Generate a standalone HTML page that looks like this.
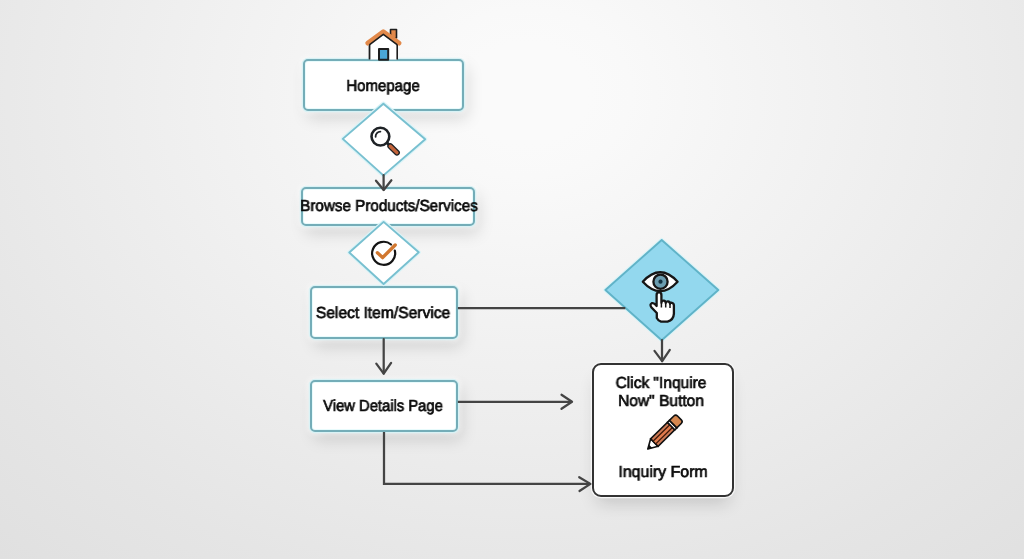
<!DOCTYPE html>
<html><head><meta charset="utf-8">
<style>
html,body{margin:0;padding:0;}
body{width:1024px;height:559px;overflow:hidden;position:relative;
 background:radial-gradient(ellipse 518px 421px at 526px 93px,rgb(250,250,250) 0%,rgb(250,250,250) 12%,rgb(249,249,249) 20%,rgb(247,247,247) 30%,rgb(244,244,244) 45%,rgb(241,241,241) 60%,rgb(237,237,237) 80%,rgb(233,233,233) 100%,rgb(229,229,229) 120%,rgb(224,224,224) 150%);
 font-family:"Liberation Sans",sans-serif;color:#1c1c1c;}
.box{position:absolute;box-sizing:border-box;background:#fff;border:2.3px solid #74adb8;border-radius:5px;
 box-shadow:inset 0 0 0 1px #e8fbfc,0 0 0 1.3px #d9f2f5,0 0 5px 3px rgba(255,255,255,0.5),4px 8px 16px rgba(0,0,0,0.13);}
.tx{position:absolute;font-size:16px;line-height:16px;white-space:nowrap;color:#0a0a0a;-webkit-text-stroke:0.7px #0a0a0a;z-index:5;will-change:transform;text-rendering:geometricPrecision;}
svg{position:absolute;left:0;top:0;}
</style></head>
<body>
<div class="box" style="left:303.15px;top:58.95px;width:160.9px;height:51.8px;"></div>
<div class="box" style="left:300.95px;top:186.55px;width:173.9px;height:39.3px;"></div>
<div class="box" style="left:309.65px;top:286.05px;width:148.2px;height:53.3px;"></div>
<div class="box" style="left:309.65px;top:379.75px;width:148.2px;height:52.1px;"></div>
<div class="box" style="left:591.75px;top:363.35px;width:141.8px;height:133.5px;border-color:#333;border-radius:9px;box-shadow:0 0 0 1.2px #f7f7f7,0 11px 18px -5px rgba(0,0,0,0.16);">
  </div>

<div class="tx" style="left:382.80px;top:78.53px;transform:translateX(-50%) scaleX(0.937);">Homepage</div>
<div class="tx" style="left:388.70px;top:198.65px;transform:translateX(-50%) scaleX(0.952);">Browse Products/Services</div>
<div class="tx" style="left:382.95px;top:305.70px;transform:translateX(-50%) scaleX(0.974);">Select Item/Service</div>
<div class="tx" style="left:383.25px;top:399.30px;transform:translateX(-50%) scaleX(0.923);">View Details Page</div>
<div class="tx" style="left:661.00px;top:375.90px;transform:translateX(-50%) scaleX(0.969);">Click "Inquire</div>
<div class="tx" style="left:661.05px;top:393.95px;transform:translateX(-50%) scaleX(0.971);">Now" Button</div>
<div class="tx" style="left:662.90px;top:464.65px;transform:translateX(-50%) scaleX(0.993);">Inquiry Form</div>
<svg width="1024" height="559" viewBox="0 0 1024 559">

 <!-- diamonds -->
 <path d="M383.4 103.7 L425.2 139.2 L383.4 175.4 L342.8 138.9 Z" fill="none" stroke="#daf4f8" stroke-width="4.2" stroke-linejoin="round"/>
 <path d="M383.4 103.7 L425.2 139.2 L383.4 175.4 L342.8 138.9 Z" fill="#fff" stroke="#78c0d0" stroke-width="1.9" stroke-linejoin="round"/>
 <path d="M383.6 221.9 L418.7 252.3 L383.6 284 L349.3 252.5 Z" fill="none" stroke="#daf4f8" stroke-width="4.2" stroke-linejoin="round"/>
 <path d="M383.6 221.9 L418.7 252.3 L383.6 284 L349.3 252.5 Z" fill="#fff" stroke="#78c0d0" stroke-width="1.9" stroke-linejoin="round"/>
 <path d="M661.7 240 L718.3 290 L661.7 340.3 L605.4 290 Z" fill="none" stroke="#daf4f8" stroke-width="4.2" stroke-linejoin="round"/>
 <path d="M661.7 240 L718.3 290 L661.7 340.3 L605.4 290 Z" fill="#93d8ee" stroke="#60b3c8" stroke-width="1.9" stroke-linejoin="round"/>
 <g fill="none" stroke="#444" stroke-width="2.25" stroke-linecap="round" stroke-linejoin="round">
  <!-- d1 to browse -->
  <path d="M383.6 175 V189.8"/>
  <path d="M376 180.7 L383.7 190 L391.4 180.3"/>
  <!-- select to view -->
  <path d="M383.7 339 V373.5"/>
  <path d="M376.3 363.6 L383.7 373.6 L391.1 362.9"/>
  <!-- select to blue diamond -->
  <path d="M457.9 308 H625.3" stroke-linecap="butt"/>
  <!-- blue diamond down -->
  <path d="M662 340 V361"/>
  <path d="M654.5 350.9 L662.2 361.2 L669.8 349.9"/>
  <!-- view right arrow -->
  <path d="M457.9 401.8 H571.5" stroke-linecap="butt"/>
  <path d="M561.5 394.8 L572 401.8 L561.5 408.8"/>
  <!-- view bottom L -->
  <path d="M384 432 V483.9 H590" stroke-linejoin="miter" stroke-linecap="butt"/>
  <path d="M579.2 477.2 L590.4 483.9 L579.5 491"/>
 </g>

 <!-- house -->
 <g stroke="#1e1e1e" stroke-width="1.6" stroke-linejoin="round">
  <rect x="390.5" y="29.5" width="6" height="8.5" fill="#e2894a"/>
  <path d="M369.6 44 V59 M397.2 44 V59" fill="none"/>
  <path d="M369.6 44 L383.3 33.5 L397.2 44 V59.5 H369.6 Z" fill="#fff" stroke="none"/>
  <path d="M369.6 44.5 V59.5 M397.2 44.5 V59.5" fill="none"/>
  <rect x="379" y="48.9" width="9.2" height="10.8" fill="#4aa6d6" stroke-width="2"/>
 </g>
 <path d="M367.6 43.2 L383.3 31.5 L399.2 43.2" fill="none" stroke="#e2894a" stroke-width="4.6" stroke-linecap="round" stroke-linejoin="round"/>
 <path d="M369.3 44.8 L383.3 34.3 L397.4 44.8" fill="none" stroke="#1e1e1e" stroke-width="1.6" stroke-linejoin="round"/>

 <!-- magnifier -->
 <circle cx="380.4" cy="136.6" r="8.9" fill="#fff" stroke="#1e2226" stroke-width="2.6"/>
 <path d="M375.6 136.8 A5 5 0 0 1 380.4 131.6" fill="none" stroke="#1e2226" stroke-width="1.8" stroke-linecap="round"/>
 <path d="M387 142.7 L389.5 145.2" stroke="#1e2226" stroke-width="3"/>
 <path d="M390.3 146.2 L396.9 152.6" stroke="#1e2226" stroke-width="6" stroke-linecap="round"/>
 <path d="M390.3 146.2 L396.9 152.6" stroke="#c4643a" stroke-width="3.4" stroke-linecap="round"/>

 <!-- check -->
 <path d="M391.04 244.49 A11.5 11.5 0 1 0 394.81 250.52" fill="none" stroke="#141414" stroke-width="2.2" stroke-linecap="round"/>
 <path d="M377.4 252.7 L382.6 257.6 L395.2 245" fill="none" stroke="#d1772f" stroke-width="3.4" stroke-linecap="round" stroke-linejoin="round"/>

 <!-- eye + hand -->
 <g stroke="#161616" stroke-width="2.3" stroke-linejoin="round">
  <path d="M642.8 281.7 Q660.2 262.8 677.6 281.7 Q660.2 300.6 642.8 281.7 Z" fill="#fff"/>
  <circle cx="660.5" cy="281.7" r="7.1" fill="#6b9db0"/>
  <circle cx="660.5" cy="281.7" r="2.1" fill="#123342" stroke="none"/>
  <path d="M656.8 313 L651.5 307.5 Q649.3 304.5 651.8 303.2 Q653.5 302.6 655.3 304.6 L656.6 306 V295 Q656.6 292.4 659 292.4 Q661.4 292.4 661.4 295 V302.8 Q661.6 300.5 663.7 300.6 Q665.6 300.7 665.7 303 Q666 301.3 667.9 301.4 Q669.9 301.6 670 303.8 Q670.3 302.6 672 302.8 Q673.8 303.1 673.9 305.5 V313.6 Q673.6 319.8 667.5 321.6 L661 321.6 Q658.2 320.8 656.8 318 Z" fill="#fff"/>
  <path d="M661.4 303 V307.5 M665.7 303.5 V307.5 M670 304 V308" fill="none" stroke-width="1.5"/>
 </g>

 <!-- pencil -->
 <g transform="translate(647.6 449.2) rotate(-44.5)">
  <path d="M0.3 0 L9.5 -5.3 V5.3 Z" fill="#fff" stroke="#111" stroke-width="1.6" stroke-linejoin="round"/>
  <path d="M0 0 L4.2 -2.4 V2.4 Z" fill="#111"/>
  <rect x="9.5" y="-5.3" width="23.5" height="10.6" fill="#cf7a55" stroke="#111" stroke-width="1.6"/>
  <rect x="10.3" y="-1.7" width="22" height="3.4" fill="#e07a4c"/>
  <path d="M9.5 -1.9 H33 M9.5 1.9 H33" stroke="#3e1a0a" stroke-width="1.3"/>
  <rect x="33" y="-5.3" width="2.8" height="10.6" fill="#fff" stroke="#111" stroke-width="1.6"/>
  <path d="M35.8 -5.3 H42 Q44.6 -5.3 44.6 -2.7 V2.7 Q44.6 5.3 42 5.3 H35.8 Z" fill="#d5874f" stroke="#111" stroke-width="1.6"/>
 </g>
</svg>
</body></html>
